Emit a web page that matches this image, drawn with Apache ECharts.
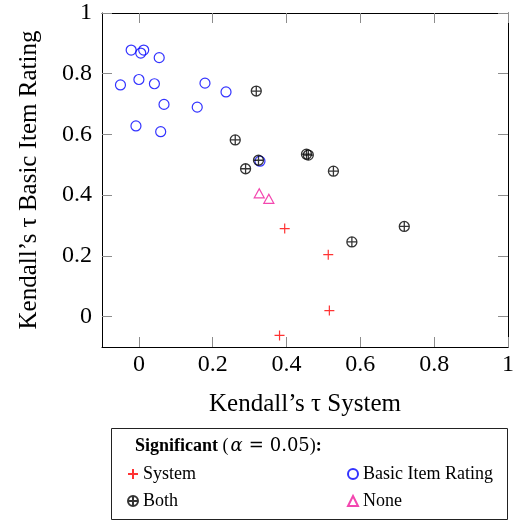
<!DOCTYPE html>
<html>
<head>
<meta charset="utf-8">
<script src="https://cdn.jsdelivr.net/npm/echarts@6/dist/echarts.min.js"></script>
<style>
    html, body { margin: 0; padding: 0; background: #fff; }
    #main { width: 517px; height: 522px; }
</style>
</head>
<body>
<div id="main"></div>
<script>
// 数据：四组点 (x = Kendall's tau System, y = Kendall's tau Basic Item Rating)
var systemX = [0.395, 0.513, 0.516, 0.381];
var systemY = [0.290, 0.204, 0.020, -0.062];

var basicX = [-0.021, 0.013, 0.005, 0.055, -0.050, 0.000, 0.042, 0.179, 0.236, 0.068, 0.158, -0.008, 0.059, 0.328];
var basicY = [0.878, 0.878, 0.868, 0.853, 0.763, 0.781, 0.767, 0.769, 0.740, 0.699, 0.690, 0.628, 0.609, 0.512];

var bothX = [0.318, 0.261, 0.289, 0.324, 0.454, 0.459, 0.527, 0.719, 0.577];
var bothY = [0.743, 0.582, 0.487, 0.515, 0.535, 0.532, 0.479, 0.297, 0.246];

var noneX = [0.326, 0.352];
var noneY = [0.406, 0.388];

var tickValues = [0, 0.2, 0.4, 0.6, 0.8, 1];

var serif = 'Liberation Serif';
var mathFont = 'DejaVu Serif';

// x/y 数组拼成点
var toPoints = function(xs, ys) {
    return xs.map(function(x, i) {
        return [x, ys[i]];
    });
};

var plusPath = 'path://M0,-1L0,1M-1,0L1,0';
var oplusPath = 'path://M-1,0A1,1,0,1,1,1,0A1,1,0,1,1,-1,0ZM0,-1L0,1M-1,0L1,0';

// 坐标轴：四条轴线围成边框，上/右两条不显示标签
var makeAxis = function(type, position, showLabel) {
    return {
        type: 'value',
        position: position,
        min: -0.1,
        max: 1,
        splitLine: { show: false },
        axisLine: { show: true, onZero: false, lineStyle: { color: '#000', width: 1 } },
        axisTick: {
            show: true,
            inside: true,
            length: 10,
            customValues: tickValues,
            lineStyle: { color: '#8c8c8c', width: 1 }
        },
        axisLabel: {
            show: showLabel,
            customValues: tickValues,
            margin: type === 'x' ? 6 : 10,
            fontFamily: serif,
            fontSize: 24,
            color: '#000'
        }
    };
};

var xMain = makeAxis('x', 'bottom', true);
xMain.name = 'Kendall\u2019s \u03c4 System';
xMain.nameLocation = 'middle';
xMain.nameGap = 45;
xMain.nameTextStyle = { fontFamily: serif, fontSize: 25, color: '#000' };

var yMain = makeAxis('y', 'left', true);
yMain.name = 'Kendall\u2019s \u03c4 Basic Item Rating';
yMain.nameLocation = 'middle';
yMain.nameGap = 60;
yMain.nameTextStyle = { fontFamily: serif, fontSize: 25, color: '#000' };

var legendText = { fontFamily: serif, fontSize: 18, color: '#000', lineHeight: 18 };

var option = {
    animation: false,
    backgroundColor: '#fff',
    grid: {
        left: 102,
        right: 8,
        top: 13,
        bottom: 175
    },
    xAxis: [xMain, makeAxis('x', 'top', false)],
    yAxis: [yMain, makeAxis('y', 'right', false)],
    legend: [{
        data: ['System', 'Both'],
        orient: 'vertical',
        left: 122,
        top: 460,
        itemWidth: 10,
        itemHeight: 10,
        itemGap: 9,
        textStyle: legendText
    }, {
        data: ['Basic Item Rating', 'None'],
        orient: 'vertical',
        left: 342,
        top: 460,
        itemWidth: 10,
        itemHeight: 10,
        itemGap: 9,
        textStyle: legendText
    }],
    graphic: [{
        type: 'rect',
        shape: { x: 111.5, y: 428.5, width: 396, height: 91 },
        style: { fill: 'none', stroke: '#222', lineWidth: 1 },
        silent: true
    }, {
        type: 'text',
        left: 135,
        top: 437,
        style: {
            text: '{b|Significant} ({i|\u03b1}{e|=}{m|0.05}){b|:}',
            fontFamily: serif,
            fontSize: 18,
            fill: '#000',
            rich: {
                b: { fontFamily: serif, fontSize: 18, fontWeight: 'bold' },
                i: { fontFamily: mathFont, fontSize: 18, fontStyle: 'italic', padding: [0, 0, 0, 2] },
                e: { fontFamily: mathFont, fontSize: 18, padding: [0, 6] },
                m: { fontFamily: mathFont, fontSize: 18 }
            }
        },
        silent: true
    }],
    series: [{
        name: 'System',
        type: 'scatter',
        data: toPoints(systemX, systemY),
        symbol: plusPath,
        symbolSize: 10,
        itemStyle: { color: 'rgba(0,0,0,0)', borderColor: '#ff0000', borderWidth: 1.2 }
    }, {
        name: 'Basic Item Rating',
        type: 'scatter',
        data: toPoints(basicX, basicY),
        symbol: 'circle',
        symbolSize: 10,
        itemStyle: { color: 'rgba(0,0,0,0)', borderColor: '#0000ff', borderWidth: 1.2 }
    }, {
        name: 'Both',
        type: 'scatter',
        data: toPoints(bothX, bothY),
        symbol: oplusPath,
        symbolSize: 10,
        itemStyle: { color: 'rgba(0,0,0,0)', borderColor: '#000', borderWidth: 1.3 }
    }, {
        name: 'None',
        type: 'scatter',
        data: toPoints(noneX, noneY),
        symbol: 'triangle',
        symbolSize: [10, 9],
        itemStyle: { color: 'rgba(0,0,0,0)', borderColor: '#f0189b', borderWidth: 1.2 }
    }]
};

echarts.init(document.getElementById('main')).setOption(option);
</script>
</body>
</html>
